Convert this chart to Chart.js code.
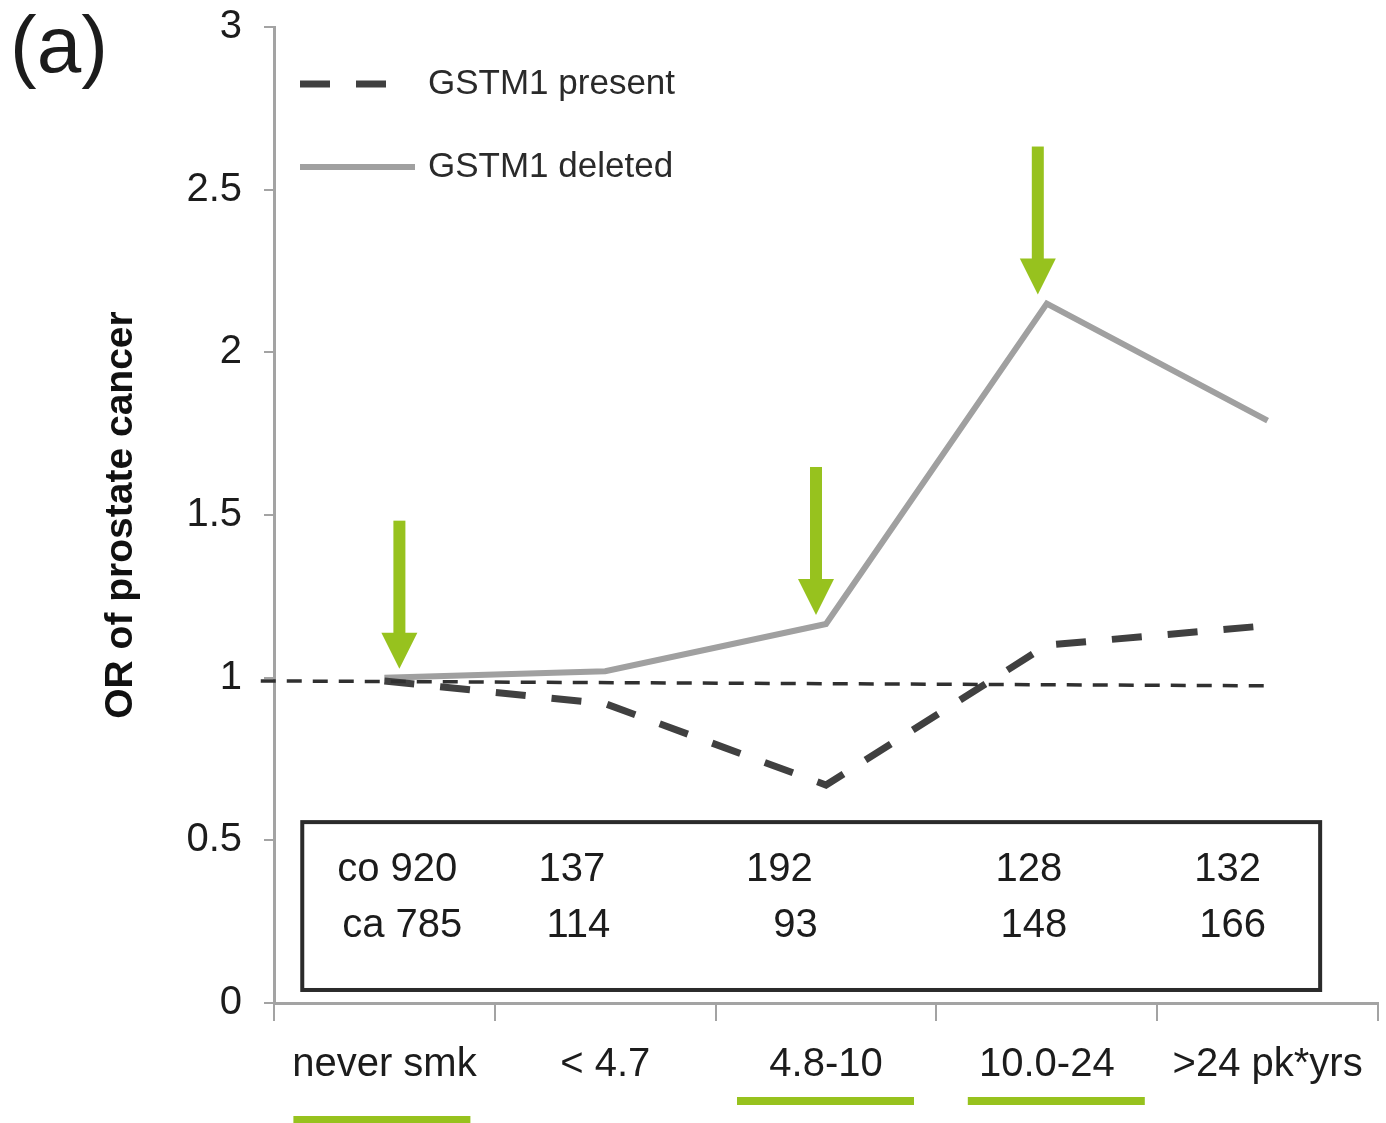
<!DOCTYPE html>
<html>
<head>
<meta charset="utf-8">
<title>GSTM1 and pack-years: OR of prostate cancer</title>
<script src="https://cdn.jsdelivr.net/npm/chart.js@4.4.1/dist/chart.umd.min.js"></script>
<style>
  html, body { margin: 0; padding: 0; background: #fff; }
  #wrap { width: 1386px; height: 1123px; position: relative; }
</style>
</head>
<body>
<div id="wrap"><canvas id="orChart"></canvas></div>
<script>
const categories = ["never smk", "< 4.7", "4.8-10", "10.0-24", ">24 pk*yrs"];
const gstm1Present = [0.99, 0.92, 0.67, 1.10, 1.16];
const gstm1Deleted = [1.00, 1.02, 1.165, 2.15, 1.79];
const referenceLine = [{ x: -0.56, y: 0.99 }, { x: 4, y: 0.975 }];
const controls = [920, 137, 192, 128, 132];
const cases = [785, 114, 93, 148, 166];
const highlighted = [0, 2, 3];
const yTicks = [0, 0.5, 1, 1.5, 2, 2.5, 3];

const FONT = "'Liberation Sans', Arial, sans-serif";
const GREEN = "#97c21e";
const AXIS = "#a3a3a3";
const TEXT = "#1c1c1c";

const PRESENT_STYLE = { color: "#404040", width: 7, dash: [30, 26] };
const DELETED_STYLE = { color: "#a0a0a0", width: 6, dash: [] };

function toPoints(values) {
  return values.map((v, i) => ({ x: i, y: v }));
}

function drawArrow(ctx, cx, tipY, length) {
  const headH = 36, headW = 36, shaftW = 12;
  ctx.fillStyle = GREEN;
  ctx.fillRect(cx - shaftW / 2, tipY - length, shaftW, length - headH + 1);
  ctx.beginPath();
  ctx.moveTo(cx - headW / 2, tipY - headH);
  ctx.lineTo(cx + headW / 2, tipY - headH);
  ctx.lineTo(cx, tipY);
  ctx.closePath();
  ctx.fill();
}

// table of counts, arrows, legend, underlines and panel letter
const extras = {
  id: "extras",
  afterDatasetsDraw(chart) {
    const { ctx } = chart;
    const xs = chart.scales.x, ys = chart.scales.y;
    ctx.save();

    // counts box
    const bl = xs.getPixelForValue(-0.372), br = xs.getPixelForValue(4.238);
    const bt = ys.getPixelForValue(0.556), bb = ys.getPixelForValue(0.04);
    ctx.fillStyle = "#fff";
    ctx.fillRect(bl, bt, br - bl, bb - bt);
    ctx.strokeStyle = "#2b2b2b";
    ctx.lineWidth = 4;
    ctx.strokeRect(bl, bt, br - bl, bb - bt);

    ctx.font = "40px " + FONT;
    ctx.fillStyle = TEXT;
    ctx.textAlign = "right";
    ctx.textBaseline = "middle";
    const colRight = [0.33, 1.0, 1.94, 3.07, 3.97];
    controls.forEach((n, i) => {
      ctx.fillText((i === 0 ? "co " : "") + n, xs.getPixelForValue(colRight[i]), ys.getPixelForValue(0.409));
    });
    cases.forEach((n, i) => {
      ctx.fillText((i === 0 ? "ca " : "") + n, xs.getPixelForValue(colRight[i]) + 5, ys.getPixelForValue(0.237));
    });

    // arrows pointing at the GSTM1 deleted points
    const arrowShift = { 0: 15, 2: -10, 3: -9 };
    highlighted.forEach(i => {
      const cx = xs.getPixelForValue(i) + arrowShift[i];
      const tipY = ys.getPixelForValue(gstm1Deleted[i]) - 9;
      drawArrow(ctx, cx, tipY, 148);
    });
    ctx.restore();
  },
  afterDraw(chart) {
    const { ctx, chartArea } = chart;
    const xs = chart.scales.x;
    ctx.save();

    // panel letter
    ctx.font = "80px " + FONT;
    ctx.fillStyle = TEXT;
    ctx.textAlign = "left";
    ctx.textBaseline = "middle";
    ctx.fillText("(a)", 10, 50);

    // legend
    const lx = chartArea.left + 26;
    const rows = [
      { label: "GSTM1 present", style: PRESENT_STYLE, len: 95, y: chartArea.top + 57 },
      { label: "GSTM1 deleted", style: DELETED_STYLE, len: 115, y: chartArea.top + 140 }
    ];
    rows.forEach(r => {
      ctx.strokeStyle = r.style.color;
      ctx.lineWidth = r.style.width;
      ctx.setLineDash(r.style.dash);
      ctx.beginPath();
      ctx.moveTo(lx, r.y);
      ctx.lineTo(lx + r.len, r.y);
      ctx.stroke();
      ctx.setLineDash([]);
      ctx.font = "35px " + FONT;
      ctx.fillStyle = "#2a2a2a";
      ctx.fillText(r.label, lx + 128, r.y);
    });

    // green underlines below highlighted categories
    const lineShift = { 0: -3, 2: -1, 3: 9 };
    const lineY = { 0: chartArea.bottom + 113, 2: chartArea.bottom + 94, 3: chartArea.bottom + 94 };
    ctx.fillStyle = GREEN;
    highlighted.forEach(i => {
      const cx = xs.getPixelForValue(i) + lineShift[i];
      ctx.fillRect(cx - 88, lineY[i], 177, 8);
    });
    ctx.restore();
  }
};

new Chart(document.getElementById("orChart"), {
  type: "line",
  data: {
    datasets: [
      {
        label: "reference",
        data: referenceLine,
        borderColor: "#303030",
        borderWidth: 3.5,
        borderDash: [15, 11],
        pointRadius: 0,
        clip: false
      },
      {
        label: "GSTM1 present",
        data: toPoints(gstm1Present),
        borderColor: PRESENT_STYLE.color,
        borderWidth: PRESENT_STYLE.width,
        borderDash: PRESENT_STYLE.dash,
        pointRadius: 0
      },
      {
        label: "GSTM1 deleted",
        data: toPoints(gstm1Deleted),
        borderColor: DELETED_STYLE.color,
        borderWidth: DELETED_STYLE.width,
        pointRadius: 0
      }
    ]
  },
  options: {
    responsive: true,
    maintainAspectRatio: false,
    animation: false,
    layout: { padding: { top: 27, right: 8, bottom: 0, left: 0 } },
    plugins: {
      legend: { display: false },
      tooltip: { enabled: false }
    },
    scales: {
      x: {
        type: "linear",
        min: -0.5,
        max: 4.5,
        afterBuildTicks(scale) {
          const t = [];
          for (let v = -0.5; v <= 4.5; v += 0.5) t.push({ value: v });
          scale.ticks = t;
        },
        afterFit(scale) {
          scale.height = 120;
          scale.paddingLeft = 0;
          scale.paddingRight = 0;
        },
        border: { color: AXIS, width: 3 },
        grid: {
          drawOnChartArea: false,
          drawTicks: true,
          tickLength: 18,
          lineWidth: 2,
          color: ctx => (ctx.tick && Number.isInteger(ctx.tick.value)) ? "rgba(0,0,0,0)" : AXIS
        },
        ticks: {
          autoSkip: false,
          maxRotation: 0,
          padding: 20,
          color: TEXT,
          font: { family: FONT, size: 40 },
          callback: v => Number.isInteger(v) ? categories[v] : ""
        }
      },
      y: {
        min: 0,
        max: 3,
        afterBuildTicks(scale) {
          scale.ticks = yTicks.map(v => ({ value: v }));
        },
        afterFit(scale) {
          scale.width = 274;
          scale.paddingTop = 0;
          scale.paddingBottom = 0;
        },
        border: { color: AXIS, width: 3 },
        grid: {
          drawOnChartArea: false,
          drawTicks: true,
          tickLength: 10,
          lineWidth: 2,
          color: AXIS
        },
        ticks: {
          padding: 22,
          color: TEXT,
          font: { family: FONT, size: 40 },
          callback: v => String(v)
        },
        title: {
          display: true,
          text: "OR of prostate cancer",
          color: "#111",
          font: { family: FONT, size: 39, weight: "bold" },
          padding: { top: 98, bottom: 0 }
        }
      }
    }
  },
  plugins: [extras]
});
</script>
</body>
</html>
